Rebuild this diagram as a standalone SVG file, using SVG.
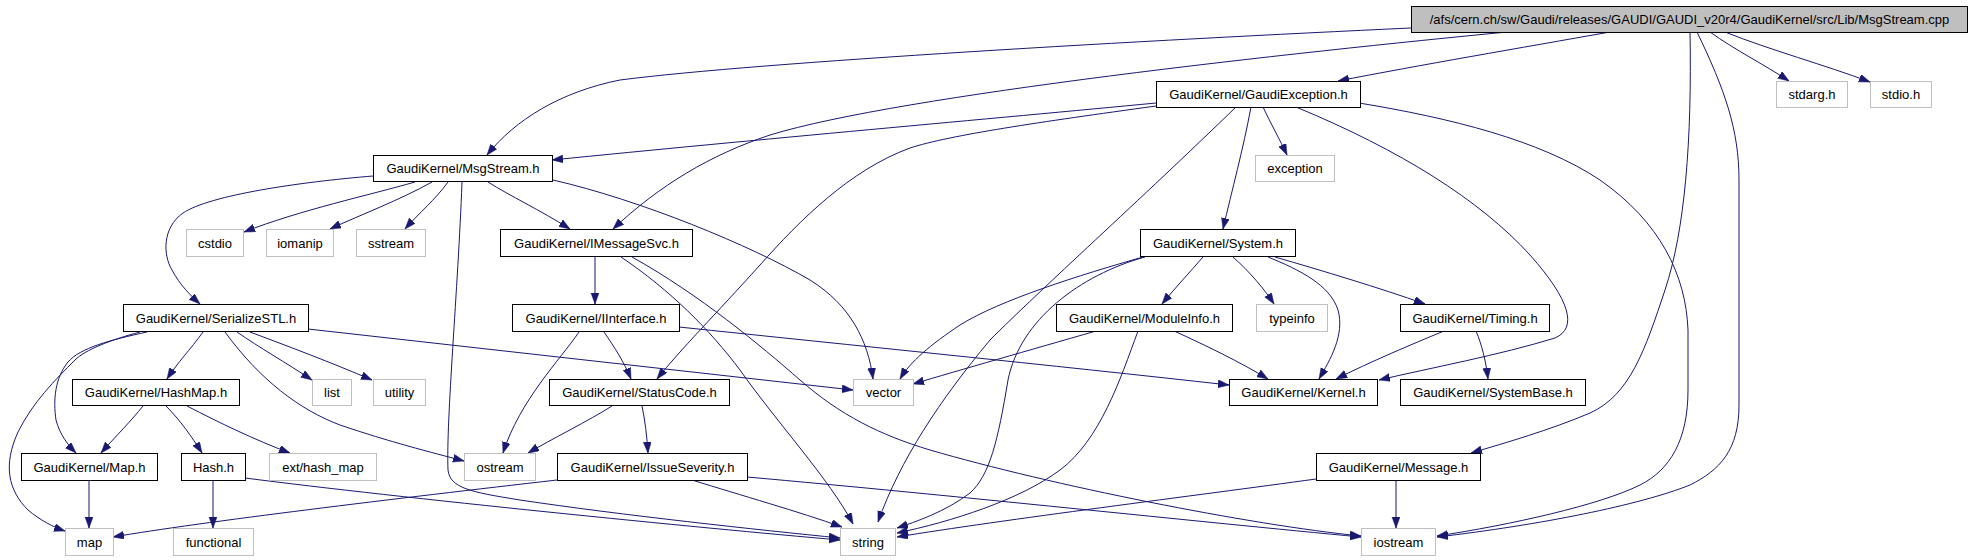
<svg xmlns="http://www.w3.org/2000/svg" width="1970" height="560" viewBox="0 0 1970 560">
<style>
.n rect{fill:#fff;stroke:#000;stroke-width:1}
.g rect{fill:#fff;stroke:#bfbfbf;stroke-width:1}
.r rect{fill:#bfbfbf;stroke:#000;stroke-width:1}
text{font-family:"Liberation Sans",Arial,sans-serif;font-size:13px;text-anchor:middle;fill:#000}
#edges path{fill:none;stroke:#191970;stroke-width:1;marker-end:url(#ah)}
</style>
<defs>
<marker id="ah" markerUnits="userSpaceOnUse" markerWidth="12" markerHeight="9" refX="11" refY="4" orient="auto">
<path d="M0,0 L11,4 L0,8 z" fill="#191970" stroke="#191970" stroke-width="0.5"/>
</marker>
</defs>
<rect width="1970" height="560" fill="#fff"/>
<g id="edges">
<path d="M1411,28 C1150,40 760,62 620,80 C560,92 515,120 487,155"/>
<path d="M1610,32 C1520,48 1420,65 1338,81"/>
<path d="M1507,32 C1300,52 900,95 770,135 C710,155 660,185 613,229"/>
<path d="M1690,32 C1692,140 1685,230 1665,290 C1645,350 1630,395 1590,413 C1550,430 1505,443 1471,453"/>
<path d="M1697,32 C1725,90 1739,130 1739,180 L1739,405 C1739,450 1720,470 1690,485 C1640,505 1540,525 1437,537"/>
<path d="M1710,32 C1735,50 1765,65 1789,81"/>
<path d="M1725,32 C1770,50 1825,65 1870,82"/>
<path d="M1359,103 C1450,118 1540,140 1600,180 C1660,222 1686,275 1688,330 L1688,390 C1688,440 1670,470 1640,485 C1600,505 1510,525 1437,536"/>
<path d="M1296,107 C1400,150 1480,200 1530,255 C1570,300 1578,328 1555,338 C1500,355 1430,368 1379,380"/>
<path d="M1156,103 C1000,118 750,140 552,160"/>
<path d="M1156,106 C1040,122 950,135 910,148 C850,170 800,220 760,265 C715,315 680,350 657,379"/>
<path d="M1236,107 C1140,200 1040,290 990,340 C940,400 900,460 878,522"/>
<path d="M1251,107 C1243,150 1232,190 1223,229"/>
<path d="M1263,107 C1270,122 1280,140 1287,155"/>
<path d="M373,176 C300,182 210,195 183,213 C162,228 163,255 172,270 C180,285 190,295 200,304"/>
<path d="M415,182 C370,195 300,210 244,232"/>
<path d="M432,182 C400,200 360,215 330,229"/>
<path d="M448,182 C435,200 420,212 405,229"/>
<path d="M462,182 C458,290 446,420 448,470 C450,488 470,492 520,500 C620,515 760,530 840,538"/>
<path d="M488,182 C510,196 540,210 570,229"/>
<path d="M553,180 C640,200 750,245 810,280 C850,305 868,340 873,379"/>
<path d="M308,329 L853,390"/>
<path d="M140,332 C110,340 85,350 75,360 C55,380 33,402 18,432 C3,465 8,490 28,510 C40,520 53,527 65,531"/>
<path d="M147,332 C110,340 80,348 68,362 C55,378 53,400 56,420 C60,435 68,445 76,453"/>
<path d="M203,332 C190,350 178,362 167,379"/>
<path d="M225,332 C260,380 300,410 340,425 C390,442 430,452 464,461"/>
<path d="M237,332 C260,348 285,362 312,380"/>
<path d="M250,332 C290,347 330,362 372,380"/>
<path d="M143,406 C132,420 115,437 101,453"/>
<path d="M166,406 C180,420 192,437 202,453"/>
<path d="M187,406 C220,423 255,440 290,453"/>
<path d="M89,480 L89,528"/>
<path d="M213,480 L213,528"/>
<path d="M245,478 C400,498 700,528 840,540"/>
<path d="M557,480 C400,498 200,522 113,537"/>
<path d="M692,480 C740,495 800,512 842,527"/>
<path d="M747,477 C950,495 1200,522 1361,537"/>
<path d="M595,256 L595,304"/>
<path d="M621,257 C670,290 710,330 740,370 C775,420 830,480 853,524"/>
<path d="M632,257 C700,295 760,345 800,380 C840,415 880,435 930,450 C1050,485 1250,525 1361,536"/>
<path d="M604,332 C615,348 624,362 631,379"/>
<path d="M579,332 C560,360 520,400 503,453"/>
<path d="M679,327 C850,345 1050,365 1229,385"/>
<path d="M612,406 C590,420 550,440 528,453"/>
<path d="M642,406 C645,420 647,437 648,453"/>
<path d="M1203,257 C1190,272 1175,288 1162,304"/>
<path d="M1233,257 C1250,272 1265,290 1274,304"/>
<path d="M1268,257 C1300,270 1330,285 1338,310 C1345,335 1330,360 1319,379"/>
<path d="M1275,257 C1320,270 1380,288 1425,304"/>
<path d="M1143,257 C1080,275 1000,300 960,325 C930,345 910,362 900,379"/>
<path d="M1145,257 C1080,275 1020,320 1008,380 C998,440 990,475 970,493 C945,512 915,522 897,528"/>
<path d="M1096,331 C1030,350 960,370 913,384"/>
<path d="M1174,331 C1205,345 1240,362 1268,379"/>
<path d="M1138,331 C1120,380 1100,440 1060,470 C1020,500 950,522 897,533"/>
<path d="M1444,331 C1410,345 1370,362 1336,379"/>
<path d="M1476,331 C1482,345 1486,362 1488,379"/>
<path d="M1396,480 L1396,528"/>
<path d="M1316,479 C1200,495 1000,520 897,537"/>
</g>
<g id="n_root" class="r"><rect x="1411.5" y="6.5" width="556" height="26"/><text x="1689.5" y="23.5">/afs/cern.ch/sw/Gaudi/releases/GAUDI/GAUDI_v20r4/GaudiKernel/src/Lib/MsgStream.cpp</text></g>
<g id="n_gaudiexception" class="n"><rect x="1156.5" y="81.5" width="204" height="26"/><text x="1258.5" y="98.5">GaudiKernel/GaudiException.h</text></g>
<g id="n_stdarg" class="g"><rect x="1776.5" y="81.5" width="71" height="26"/><text x="1812" y="98.5">stdarg.h</text></g>
<g id="n_stdio" class="g"><rect x="1870.5" y="81.5" width="61" height="26"/><text x="1901" y="98.5">stdio.h</text></g>
<g id="n_msgstream" class="n"><rect x="373.5" y="155.5" width="179" height="26"/><text x="463" y="172.5">GaudiKernel/MsgStream.h</text></g>
<g id="n_exception" class="g"><rect x="1255.5" y="155.5" width="79" height="26"/><text x="1295" y="172.5">exception</text></g>
<g id="n_cstdio" class="g"><rect x="186.5" y="229.5" width="57" height="27"/><text x="215" y="247.5">cstdio</text></g>
<g id="n_iomanip" class="g"><rect x="266.5" y="229.5" width="67" height="27"/><text x="300" y="247.5">iomanip</text></g>
<g id="n_sstream" class="g"><rect x="356.5" y="229.5" width="69" height="27"/><text x="391" y="247.5">sstream</text></g>
<g id="n_imessagesvc" class="n"><rect x="500.5" y="229.5" width="192" height="27"/><text x="596.5" y="247.5">GaudiKernel/IMessageSvc.h</text></g>
<g id="n_system" class="n"><rect x="1140.5" y="229.5" width="155" height="27"/><text x="1218" y="247.5">GaudiKernel/System.h</text></g>
<g id="n_serializestl" class="n"><rect x="123.5" y="304.5" width="185" height="27"/><text x="216" y="322.5">GaudiKernel/SerializeSTL.h</text></g>
<g id="n_iinterface" class="n"><rect x="512.5" y="304.5" width="167" height="27"/><text x="596" y="322.5">GaudiKernel/IInterface.h</text></g>
<g id="n_moduleinfo" class="n"><rect x="1056.5" y="304.5" width="176" height="27"/><text x="1144.5" y="322.5">GaudiKernel/ModuleInfo.h</text></g>
<g id="n_typeinfo" class="g"><rect x="1256.5" y="304.5" width="71" height="27"/><text x="1292" y="322.5">typeinfo</text></g>
<g id="n_timing" class="n"><rect x="1400.5" y="304.5" width="149" height="27"/><text x="1475" y="322.5">GaudiKernel/Timing.h</text></g>
<g id="n_hashmap" class="n"><rect x="72.5" y="379.5" width="167" height="26"/><text x="156" y="396.5">GaudiKernel/HashMap.h</text></g>
<g id="n_list" class="g"><rect x="312.5" y="379.5" width="39" height="26"/><text x="332" y="396.5">list</text></g>
<g id="n_utility" class="g"><rect x="373.5" y="379.5" width="52" height="26"/><text x="399.5" y="396.5">utility</text></g>
<g id="n_statuscode" class="n"><rect x="549.5" y="379.5" width="180" height="26"/><text x="639.5" y="396.5">GaudiKernel/StatusCode.h</text></g>
<g id="n_vector" class="g"><rect x="853.5" y="379.5" width="60" height="26"/><text x="883.5" y="396.5">vector</text></g>
<g id="n_kernel" class="n"><rect x="1229.5" y="379.5" width="148" height="26"/><text x="1303.5" y="396.5">GaudiKernel/Kernel.h</text></g>
<g id="n_systembase" class="n"><rect x="1400.5" y="379.5" width="185" height="26"/><text x="1493" y="396.5">GaudiKernel/SystemBase.h</text></g>
<g id="n_map_h" class="n"><rect x="21.5" y="453.5" width="136" height="27"/><text x="89.5" y="471.5">GaudiKernel/Map.h</text></g>
<g id="n_hash" class="n"><rect x="181.5" y="453.5" width="64" height="27"/><text x="213.5" y="471.5">Hash.h</text></g>
<g id="n_ext_hash_map" class="g"><rect x="269.5" y="453.5" width="107" height="27"/><text x="323" y="471.5">ext/hash_map</text></g>
<g id="n_ostream" class="g"><rect x="464.5" y="453.5" width="71" height="27"/><text x="500" y="471.5">ostream</text></g>
<g id="n_issueseverity" class="n"><rect x="557.5" y="453.5" width="190" height="27"/><text x="652.5" y="471.5">GaudiKernel/IssueSeverity.h</text></g>
<g id="n_message" class="n"><rect x="1316.5" y="453.5" width="164" height="27"/><text x="1398.5" y="471.5">GaudiKernel/Message.h</text></g>
<g id="n_map" class="g"><rect x="65.5" y="528.5" width="48" height="27"/><text x="89.5" y="546.5">map</text></g>
<g id="n_functional" class="g"><rect x="173.5" y="528.5" width="80" height="27"/><text x="213.5" y="546.5">functional</text></g>
<g id="n_string" class="g"><rect x="840.5" y="528.5" width="55" height="27"/><text x="868" y="546.5">string</text></g>
<g id="n_iostream" class="g"><rect x="1361.5" y="528.5" width="74" height="27"/><text x="1398.5" y="546.5">iostream</text></g>
</svg>
